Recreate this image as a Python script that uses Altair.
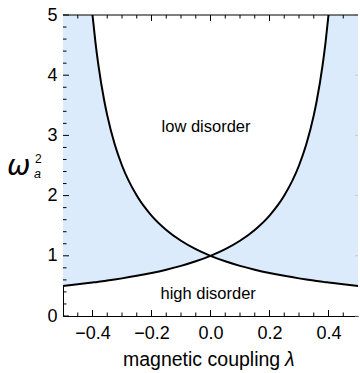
import altair as alt
import pandas as pd
import numpy as np

# coupling values (x) and the two boundary curves
lam = [-0.5, -0.45, -0.4, -0.39, -0.38, -0.36, -0.35, -0.325, -0.3, -0.25, -0.2,
       -0.15, -0.1, -0.05, 0.0, 0.05, 0.1, 0.15, 0.2, 0.25, 0.3, 0.325, 0.35,
       0.36, 0.38, 0.39, 0.4, 0.45, 0.5]
rise = [0.5, 0.526, 0.556, 0.562, 0.568, 0.581, 0.588, 0.606, 0.625, 0.667, 0.714,
        0.769, 0.833, 0.909, 1.0, 1.111, 1.25, 1.429, 1.667, 2.0, 2.5, 2.857, 3.333,
        3.571, 4.167, 4.545, 5.0, None, None]
fall = [None, None, 5.0, 4.545, 4.167, 3.571, 3.333, 2.857, 2.5, 2.0, 1.667,
        1.429, 1.25, 1.111, 1.0, 0.909, 0.833, 0.769, 0.714, 0.667, 0.625, 0.606, 0.588,
        0.581, 0.568, 0.562, 0.556, 0.526, 0.5]

x_major = [-0.4, -0.2, 0.0, 0.2, 0.4]
x_minor = [-0.45, -0.35, -0.3, -0.25, -0.15, -0.1, -0.05, 0.05, 0.1, 0.15, 0.25, 0.3, 0.35, 0.45]
y_major = [0, 1, 2, 3, 4, 5]
y_minor = [0.2, 0.4, 0.6, 0.8, 1.2, 1.4, 1.6, 1.8, 2.2, 2.4, 2.6, 2.8,
           3.2, 3.4, 3.6, 3.8, 4.2, 4.4, 4.6, 4.8]

region_text = ["low disorder", "high disorder"]
region_x = [-0.015, -0.008]
region_y = [3.14, 0.36]

X_DOMAIN = [-0.5, 0.5]
Y_DOMAIN = [0, 5]
W, H = 295, 301
FONT = "Liberation Sans"
FILL = "#dcebfb"
TICK = "black"

r = pd.Series(rise, dtype="float")
f = pd.Series(fall, dtype="float")
area_df = pd.DataFrame({
    "lam": lam,
    "lo": pd.concat([r, f], axis=1).min(axis=1),
    "hi": pd.concat([r.fillna(5.0), f.fillna(5.0)], axis=1).max(axis=1).clip(upper=5.0),
})
curve_df = pd.concat([
    pd.DataFrame({"lam": lam, "w": rise, "c": "rise"}),
    pd.DataFrame({"lam": lam, "w": fall, "c": "fall"}),
]).dropna()

xscale = alt.Scale(domain=X_DOMAIN, nice=False, zero=False)
yscale = alt.Scale(domain=Y_DOMAIN, nice=False, zero=False)
xaxis = alt.Axis(values=x_major, format=".1f", title=None, ticks=False, grid=False,
                 labelFontSize=18, labelPadding=8, labelFont=FONT, labelColor="black",
                 domainColor="black", domainWidth=1)
yaxis = alt.Axis(values=y_major, format="d", title=None, ticks=False, grid=False,
                 labelFontSize=18, labelPadding=6, labelFont=FONT, labelColor="black",
                 domainColor="black", domainWidth=1)

area = alt.Chart(area_df).mark_area(color=FILL, opacity=1, clip=True,
                                    interpolate="monotone").encode(
    x=alt.X("lam:Q", scale=xscale, axis=xaxis),
    y=alt.Y("lo:Q", scale=yscale, axis=yaxis),
    y2="hi:Q",
)

lines = alt.Chart(curve_df).mark_line(color="black", strokeWidth=2, clip=True,
                                      interpolate="monotone").encode(
    x=alt.X("lam:Q", scale=xscale, axis=xaxis),
    y=alt.Y("w:Q", scale=yscale, axis=yaxis),
    detail="c:N",
)

# one table per tick set
MAJ, MIN = 6.0, 3.5
ypx = (Y_DOMAIN[1] - Y_DOMAIN[0]) / H
xpx = (X_DOMAIN[1] - X_DOMAIN[0]) / W


def xticks(values, length, top, name):
    df = pd.DataFrame({name: values})
    L = length * ypx
    a = Y_DOMAIN[1] if top else Y_DOMAIN[0]
    b = a - L if top else a + L
    return alt.Chart(df).mark_rule(color=TICK, strokeWidth=1).encode(
        x=alt.X(f"{name}:Q", scale=xscale, axis=xaxis),
        y=alt.Y(datum=a, scale=yscale, axis=yaxis),
        y2=alt.Y2(datum=b),
    )


def yticks(values, length, right, name, color=TICK):
    df = pd.DataFrame({name: values})
    L = length * xpx
    a = X_DOMAIN[1] if right else X_DOMAIN[0]
    b = a - L if right else a + L
    return alt.Chart(df).mark_rule(color=color, strokeWidth=1).encode(
        y=alt.Y(f"{name}:Q", scale=yscale, axis=yaxis),
        x=alt.X(datum=a, scale=xscale, axis=xaxis),
        x2=alt.X2(datum=b),
    )


ticks = [
    xticks(x_major, MAJ, False, "bxM"), xticks(x_minor, MIN, False, "bxm"),
    xticks(x_major, MAJ, True, "txM"), xticks(x_minor, MIN, True, "txm"),
    yticks(y_major, MAJ, False, "lyM"), yticks(y_minor, MIN, False, "lym"),
    yticks(y_major, 3, True, "ryM", color="#c8c8c8"),
]

one = pd.DataFrame({"a": [0]})
top_frame = alt.Chart(one).mark_rule(color=TICK, strokeWidth=1).encode(
    x=alt.X(datum=X_DOMAIN[0], scale=xscale, axis=xaxis),
    x2=alt.X2(datum=X_DOMAIN[1]),
    y=alt.Y(datum=Y_DOMAIN[1], scale=yscale, axis=yaxis),
)

labels = alt.Chart(pd.DataFrame({"txt": region_text, "x": region_x, "y": region_y})).mark_text(
    font=FONT, fontSize=16.5, color="black", align="center", baseline="middle"
).encode(
    x=alt.X("x:Q", scale=xscale, axis=xaxis),
    y=alt.Y("y:Q", scale=yscale, axis=yaxis),
    text="txt:N",
)

xtitle1 = alt.Chart(one).mark_text(font=FONT, fontSize=19.5, color="black", align="left",
                                   baseline="alphabetic", text="magnetic coupling").encode(
    x=alt.value(60), y=alt.value(351))
xtitle2 = alt.Chart(one).mark_text(font=FONT, fontSize=19.5, fontStyle="italic", color="black",
                                   align="left", baseline="alphabetic", text="λ").encode(
    x=alt.value(222), y=alt.value(351))

ytitle_w = alt.Chart(one).mark_text(font="DejaVu Sans", fontSize=28, fontStyle="italic",
                                    color="black", align="left", baseline="alphabetic",
                                    text="ω").encode(x=alt.value(-56), y=alt.value(160))
ytitle_2 = alt.Chart(one).mark_text(font=FONT, fontSize=12, color="black", align="left",
                                    baseline="alphabetic", text="2").encode(
    x=alt.value(-28), y=alt.value(148))
ytitle_a = alt.Chart(one).mark_text(font=FONT, fontSize=12.5, fontStyle="italic", color="black",
                                    align="left", baseline="alphabetic", text="a").encode(
    x=alt.value(-29), y=alt.value(163))

chart = alt.layer(
    area, lines, *ticks, top_frame, labels,
    xtitle1, xtitle2, ytitle_w, ytitle_2, ytitle_a
).properties(
    width=W, height=H,
    padding={"left": 63, "top": 15, "right": 2, "bottom": 57},
    autosize=alt.AutoSizeParams(type="none"),
    background="white",
).configure_view(stroke=None)

chart.save("out.html", embed_options={"renderer": "svg", "actions": False})
